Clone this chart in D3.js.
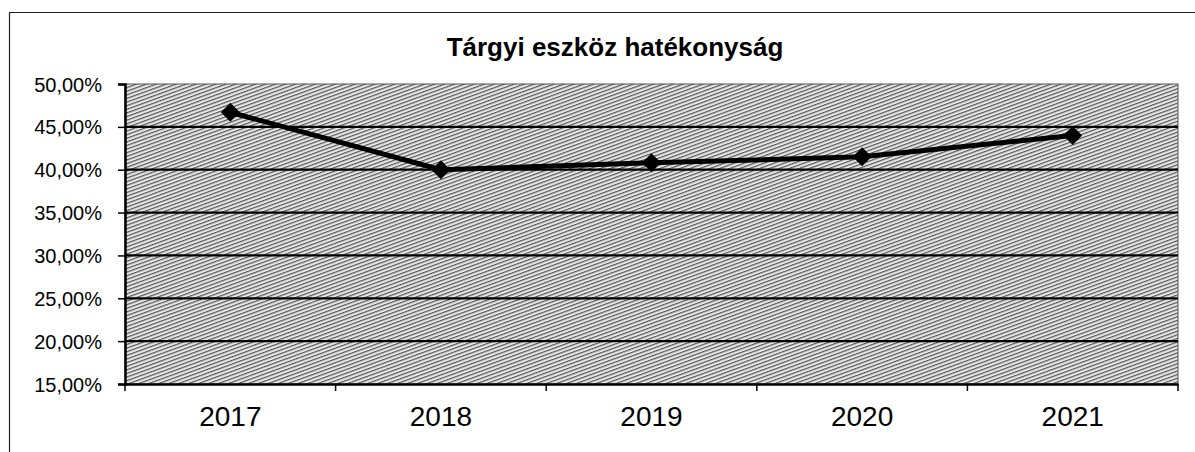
<!DOCTYPE html>
<html>
<head>
<meta charset="utf-8">
<script src="https://cdn.jsdelivr.net/npm/d3@7"></script>
<style>
  body { margin: 0; background: #fff; }
  text { font-family: "Liberation Sans", Arial, sans-serif; fill: #000; }
</style>
</head>
<body>
<div id="chart"></div>
<script>
// data
var years = ["2017", "2018", "2019", "2020", "2021"];
var values = [0.467, 0.400, 0.408, 0.415, 0.440];
var yTicks = [0.15, 0.20, 0.25, 0.30, 0.35, 0.40, 0.45, 0.50];
var title = "Tárgyi eszköz hatékonyság";

var W = 1195, H = 452;
var margin = {top: 84, right: 17, bottom: 68, left: 125},
  width = W - margin.left - margin.right,
  height = H - margin.top - margin.bottom;

var root = d3.select("#chart")
  .append("svg")
    .attr("width", W)
    .attr("height", H);

// hatch pattern for the plot area
var defs = root.append("defs");
var pat = defs.append("pattern")
    .attr("id", "hatch")
    .attr("patternUnits", "userSpaceOnUse")
    .attr("width", 8)
    .attr("height", 3.4)
    .attr("patternTransform", "rotate(-20)");
pat.append("rect").attr("width", 8).attr("height", 3.4).attr("fill", "#e6e6e6");
pat.append("rect").attr("width", 8).attr("height", 1.2).attr("fill", "#555");

// outer chart border (top and left visible)
root.append("path")
  .attr("d", "M9.5," + H + "V12.5H" + W)
  .attr("fill", "none")
  .attr("stroke", "#222")
  .attr("stroke-width", 1.2);

root.append("text")
  .attr("x", 615)
  .attr("y", 56)
  .attr("text-anchor", "middle")
  .style("font-size", "26px")
  .style("font-weight", "bold")
  .text(title);

var svg = root.append("g")
  .attr("transform", "translate(" + margin.left + "," + margin.top + ")");

var x = d3.scaleBand()
  .domain(years)
  .range([0, width]);

var y = d3.scaleLinear()
  .domain([0.15, 0.50])
  .range([height, 0]);

svg.append("rect")
  .attr("width", width)
  .attr("height", height)
  .attr("fill", "url(#hatch)")
  .attr("stroke", "#555")
  .attr("stroke-width", 1);

// gridlines
svg.append("g")
  .selectAll("line")
  .data(yTicks.filter(function(d) { return d > 0.15 && d < 0.50; }))
  .enter().append("line")
    .attr("x1", 0)
    .attr("x2", width)
    .attr("y1", function(d) { return y(d); })
    .attr("y2", function(d) { return y(d); })
    .attr("stroke", "#000")
    .attr("stroke-width", 2.2);

var fmt = function(d) { return d3.format(".2f")(d * 100).replace(".", ",") + "%"; };

var yAxis = svg.append("g")
  .call(d3.axisLeft(y).tickValues(yTicks).tickFormat(fmt).tickSize(7).tickPadding(16));
yAxis.select(".domain").attr("stroke", "#000").attr("stroke-width", 2.5);
yAxis.selectAll(".tick line").attr("stroke", "#000").attr("stroke-width", 1.5);
yAxis.selectAll("text").style("font-size", "20px").attr("dy", "0.35em");

var xAxis = svg.append("g")
  .attr("transform", "translate(0," + height + ")")
  .call(d3.axisBottom(x).tickSize(0).tickPadding(22));
xAxis.select(".domain").attr("stroke", "#000").attr("stroke-width", 2.5);
xAxis.selectAll("text").style("font-size", "28px");

// tick marks between categories
svg.append("g")
  .selectAll("line")
  .data(years.concat(["end"]))
  .enter().append("line")
    .attr("x1", function(d, i) { return i < years.length ? x(d) : width; })
    .attr("x2", function(d, i) { return i < years.length ? x(d) : width; })
    .attr("y1", height)
    .attr("y2", height + 7)
    .attr("stroke", "#000")
    .attr("stroke-width", 1.5);

var line = d3.line()
  .x(function(d, i) { return x(years[i]) + x.bandwidth() / 2; })
  .y(function(d) { return y(d); });

svg.append("path")
  .datum(values)
  .attr("d", line)
  .attr("fill", "none")
  .attr("stroke", "#000")
  .attr("stroke-width", 5)
  .attr("stroke-linejoin", "round");

var r = 9.5;
svg.append("g")
  .selectAll("path")
  .data(values)
  .enter().append("path")
    .attr("transform", function(d, i) {
      return "translate(" + (x(years[i]) + x.bandwidth() / 2) + "," + y(d) + ")";
    })
    .attr("d", "M0," + (-r) + "L" + r + ",0L0," + r + "L" + (-r) + ",0Z")
    .attr("fill", "#000");
</script>
</body>
</html>
